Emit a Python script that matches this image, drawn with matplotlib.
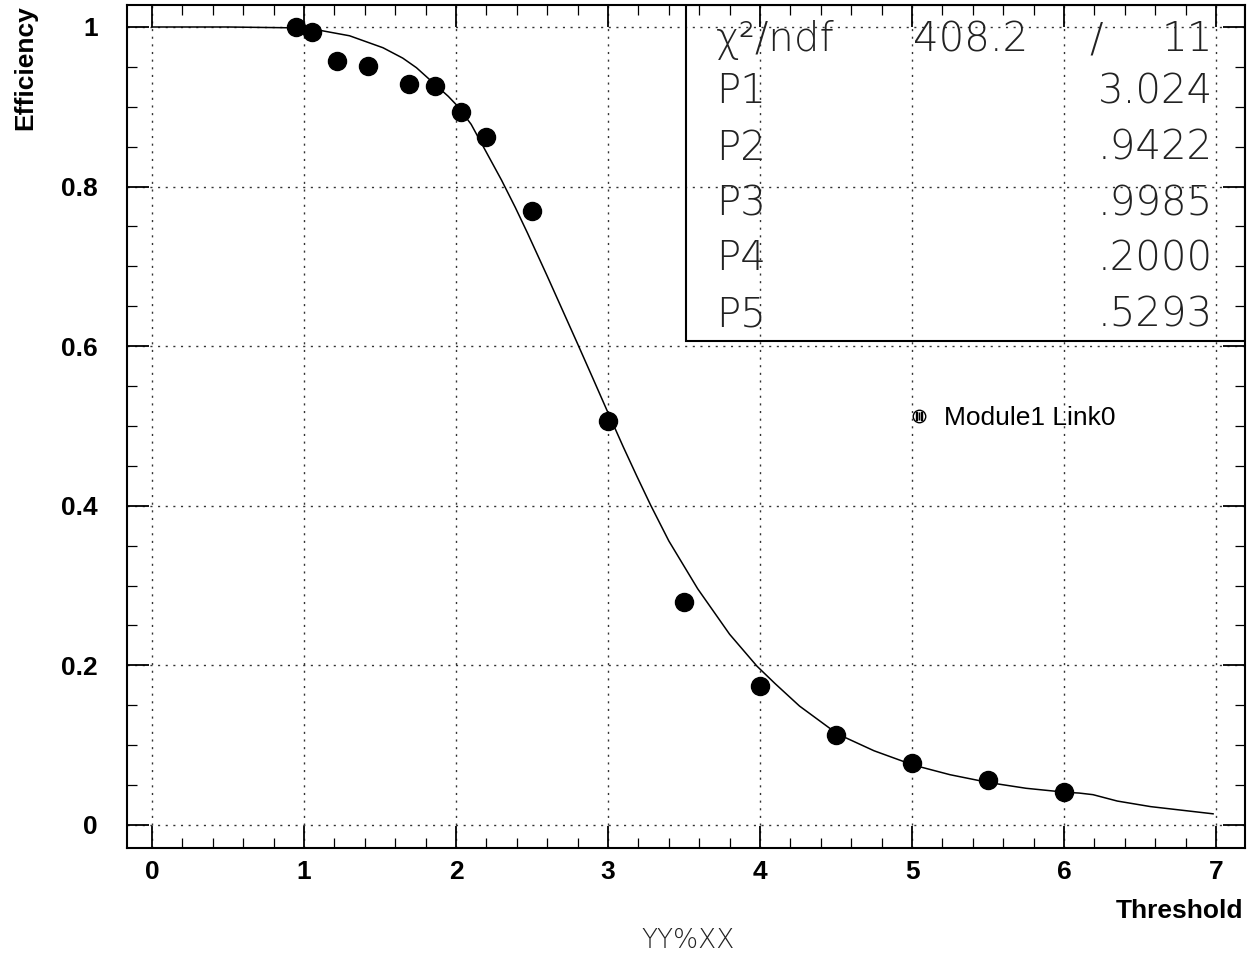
import matplotlib
matplotlib.use('Agg')
import matplotlib.pyplot as plt
from matplotlib.lines import Line2D
from matplotlib.patches import Rectangle
from matplotlib.ticker import MultipleLocator

# measured points
thr = [0.95, 1.05, 1.22, 1.42, 1.69, 1.86, 2.03, 2.20, 2.50, 3.0, 3.5, 4.0, 4.5, 5.0, 5.5, 6.0]
eff = [1.000, 0.994, 0.957, 0.951, 0.929, 0.926, 0.893, 0.862, 0.769, 0.506,
       0.279, 0.174, 0.113, 0.078, 0.056, 0.041]

# fit curve
fit_x = [0.0, 0.5, 0.91, 1.1, 1.30, 1.52, 1.65, 1.74, 1.88, 1.95, 2.01, 2.10, 2.18,
         2.30, 2.39, 2.47, 2.60, 2.80, 2.90, 2.99, 3.10, 3.19, 3.28, 3.40, 3.59,
         3.80, 3.98, 4.10, 4.26, 4.51, 4.75, 5.01, 5.25, 5.51, 5.75, 6.01, 6.10,
         6.19, 6.35, 6.57, 6.98]
fit_y = [1.000, 1.000, 0.999, 0.996, 0.989, 0.974, 0.961, 0.949, 0.925, 0.913,
         0.901, 0.878, 0.850, 0.808, 0.774, 0.742, 0.688, 0.603, 0.560, 0.521,
         0.474, 0.437, 0.401, 0.356, 0.296, 0.239, 0.199, 0.177, 0.149, 0.114,
         0.093, 0.075, 0.063, 0.053, 0.046, 0.041, 0.040, 0.038, 0.030, 0.023,
         0.014]

xticks = [0, 1, 2, 3, 4, 5, 6, 7]
yticks = [0, 0.2, 0.4, 0.6, 0.8, 1.0]
ytick_labels = ['0', '0.2', '0.4', '0.6', '0.8', '1']

stat_names = ['P1', 'P2', 'P3', 'P4', 'P5']
stat_values = ['3.024', '.9422', '.9985', '.2000', '.5293']
chi2 = '408.2'
ndf = '11'

bold = 'Liberation Sans'
thin = 'DejaVu Sans'

fig = plt.figure(figsize=(12.51, 9.56), dpi=100)
ax = fig.add_axes([0.1015, 0.1130, 0.8937, 0.8818])

ax.plot(fit_x, fit_y, color='black', lw=1.1)
ax.plot(thr, eff, 'o', color='black', ms=13, label='Module1 Link0')

ax.set_xlim(-0.164, 7.19)
ax.set_ylim(-0.0288, 1.0276)
ax.set_xticks(xticks)
ax.set_yticks(yticks)
ax.set_yticklabels(ytick_labels)
ax.xaxis.set_minor_locator(MultipleLocator(0.2))
ax.yaxis.set_minor_locator(MultipleLocator(0.05))
ax.tick_params(which='both', direction='in', top=True, right=True)
ax.tick_params(which='major', length=16, width=1.3)
ax.tick_params(which='minor', length=7, width=0.9)
ax.tick_params(axis='x', which='major', pad=9)
ax.tick_params(axis='y', which='major', pad=21)
for lab in ax.get_xticklabels() + ax.get_yticklabels():
    lab.set_fontfamily(bold)
    lab.set_fontweight('bold')
    lab.set_fontsize(19)
for sp in ax.spines.values():
    sp.set_linewidth(1.5)

ax.grid(True, which='major', color='#333333', ls=(0, (1.5, 4)), lw=1.0)

ax.set_xlabel('Threshold', loc='right', fontfamily=bold, fontweight='bold', fontsize=19)
ax.xaxis.set_label_coords(0.998, -0.060)
ax.set_ylabel('Efficiency', loc='top', fontfamily=bold, fontweight='bold', fontsize=19)
ax.yaxis.set_label_coords(-0.080, 1.0)

# stats box
ax.add_patch(Rectangle((0.5, 0.6014), 0.5, 0.3986, transform=ax.transAxes,
                       fill=False, edgecolor='black', lw=1.5, zorder=5))
row_y = [0.897, 0.830, 0.764, 0.699, 0.632]
box_font = dict(family=thin, weight='light', fontsize=29, transform=ax.transAxes,
                va='center', color='#222222')
ax.text(0.527, 0.959, 'χ²/ndf', ha='left', **box_font)
ax.text(0.703, 0.959, chi2, ha='left', **box_font)
ax.text(0.867, 0.959, '/', ha='center', **box_font)
ax.text(0.971, 0.959, ndf, ha='right', **box_font)
for name, val, yy in zip(stat_names, stat_values, row_y):
    ax.text(0.527, yy, name, ha='left', **box_font)
    ax.text(0.971, yy, val, ha='right', **box_font)

circ = Line2D([], [], marker='o', ls='none', ms=9, mfc='white', mec='black', mew=1)
bars = Line2D([], [], marker='$|||$', ls='none', ms=6, color='black')
ax.legend([(circ, bars)], ['Module1 Link0'], loc='center left', bbox_to_anchor=(0.700, 0.510),
          frameon=False, handlelength=0.7, handletextpad=0.6, borderpad=0,
          borderaxespad=0, prop={'family': bold, 'size': 19})

fig.text(0.55, 0.0167, 'YY%XX', ha='center', va='center', family=thin,
         weight='light', fontsize=19, color='#222222')

fig.savefig('out.png', dpi=100)
